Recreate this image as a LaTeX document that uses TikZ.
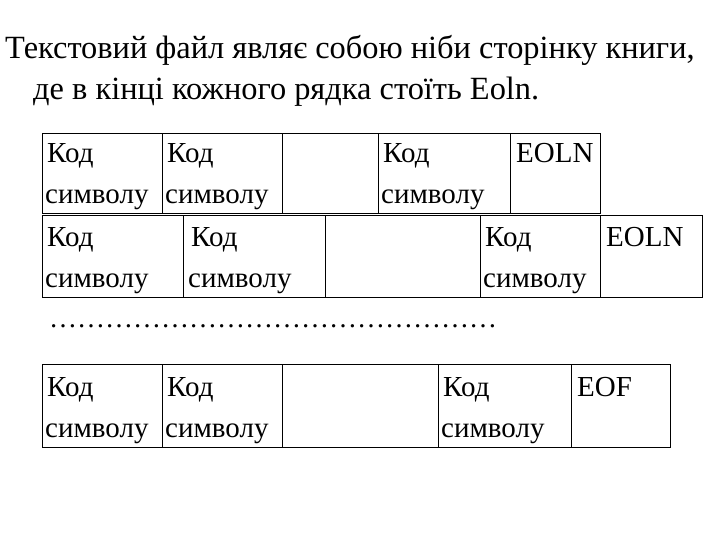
\documentclass[tikz,border=0pt]{standalone}
\usepackage{fontspec}
\setmainfont{Liberation Serif}
\usetikzlibrary{calc}
\tikzset{
  cell/.style={draw=black, line width=1.1pt, rectangle, inner sep=0pt, anchor=north west},
  txt/.style={anchor=base west, inner sep=0pt, font=\fontsize{29}{34}\selectfont},
  dotline/.style={anchor=base west, inner sep=0pt, font=\fontsize{28}{34}\selectfont},
  title/.style={anchor=base west, inner sep=0pt, font=\fontsize{32.4}{38}\selectfont}
}
\begin{document}
\begin{tikzpicture}[x=1pt,y=-1pt]
\useasboundingbox[fill=white] (0,0) rectangle (720,540);
% title
\node[title] (t1) at (5,59) {Текстовий файл являє собою ніби сторінку книги,};
\node[title] (t2) at (33,100) {де в кінці кожного рядка стоїть Eoln.};
% row 1
\node[cell, minimum width=120pt, minimum height=80pt] (a1) at (42,133) {};
\node[cell, minimum width=120pt, minimum height=80pt] (a2) at (162,133) {};
\node[cell, minimum width=96pt,  minimum height=80pt] (a3) at (282,133) {};
\node[cell, minimum width=132pt, minimum height=80pt] (a4) at (378,133) {};
\node[cell, minimum width=90pt,  minimum height=80pt] (a5) at (510,133) {};
% row 2
\node[cell, minimum width=141pt, minimum height=82pt] (b1) at (42,215) {};
\node[cell, minimum width=142pt, minimum height=82pt] (b2) at (183,215) {};
\node[cell, minimum width=155pt, minimum height=82pt] (b3) at (325,215) {};
\node[cell, minimum width=120pt, minimum height=82pt] (b4) at (480,215) {};
\node[cell, minimum width=102pt, minimum height=82pt] (b5) at (600,215) {};
% row 3
\node[cell, minimum width=120pt, minimum height=83pt] (c1) at (42,364) {};
\node[cell, minimum width=120pt, minimum height=83pt] (c2) at (162,364) {};
\node[cell, minimum width=156pt, minimum height=83pt] (c3) at (282,364) {};
\node[cell, minimum width=133pt, minimum height=83pt] (c4) at (438,364) {};
\node[cell, minimum width=99pt,  minimum height=83pt] (c5) at (571,364) {};
% texts row 1
\node[txt] (a1k) at ($(a1.north west)+(5,30)$) {Код};
\node[txt] (a1s) at ($(a1.north west)+(3,71)$) {символу};
\node[txt] (a2k) at ($(a2.north west)+(5,30)$) {Код};
\node[txt] (a2s) at ($(a2.north west)+(3,71)$) {символу};
\node[txt] (a4k) at ($(a4.north west)+(5,30)$) {Код};
\node[txt] (a4s) at ($(a4.north west)+(3,71)$) {символу};
\node[txt] (a5k) at ($(a5.north west)+(6,30)$) {EOLN};
% texts row 2
\node[txt] (b1k) at ($(b1.north west)+(5,31)$) {Код};
\node[txt] (b1s) at ($(b1.north west)+(3,72)$) {символу};
\node[txt] (b2k) at ($(b2.north west)+(8,31)$) {Код};
\node[txt] (b2s) at ($(b2.north west)+(5,72)$) {символу};
\node[txt] (b4k) at ($(b4.north west)+(5,31)$) {Код};
\node[txt] (b4s) at ($(b4.north west)+(3,72)$) {символу};
\node[txt] (b5k) at ($(b5.north west)+(6,31)$) {EOLN};
% dots
\node[dotline] (dots) at (49,327) {…………………………………………};
% texts row 3
\node[txt] (c1k) at ($(c1.north west)+(5,32)$) {Код};
\node[txt] (c1s) at ($(c1.north west)+(3,73)$) {символу};
\node[txt] (c2k) at ($(c2.north west)+(5,32)$) {Код};
\node[txt] (c2s) at ($(c2.north west)+(3,73)$) {символу};
\node[txt] (c4k) at ($(c4.north west)+(5,32)$) {Код};
\node[txt] (c4s) at ($(c4.north west)+(3,73)$) {символу};
\node[txt] (c5k) at ($(c5.north west)+(6,32)$) {EOF};
\end{tikzpicture}
\end{document}
